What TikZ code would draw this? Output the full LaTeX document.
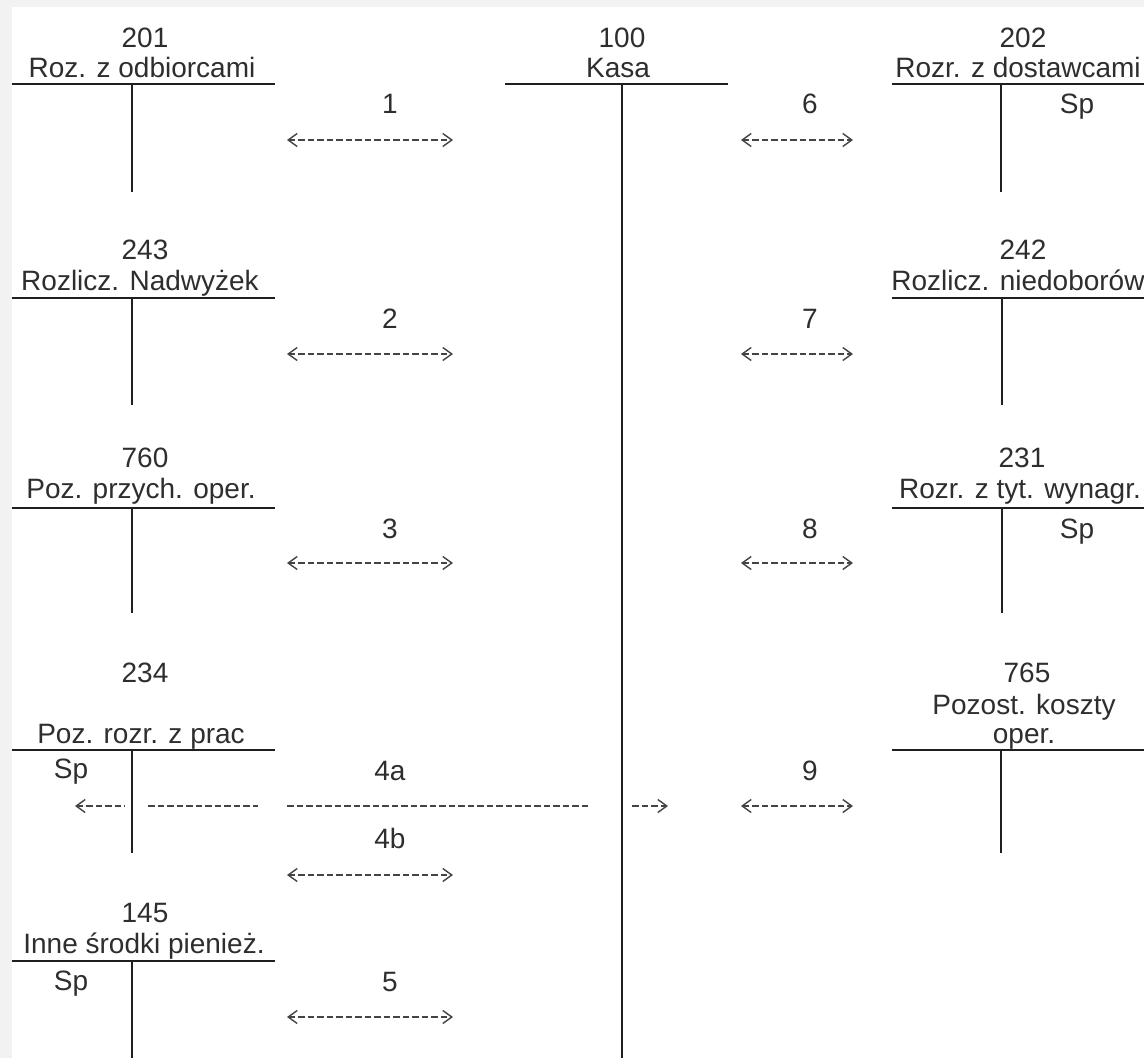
\documentclass[tikz,border=0pt]{standalone}
\usepackage{fontspec}
\setmainfont{Liberation Sans}
\usetikzlibrary{arrows.meta}
\definecolor{txt}{HTML}{2E2E2E}
\definecolor{bggray}{HTML}{F2F2F2}
\definecolor{dashc}{HTML}{444444}
\newcommand\TAcc[6]{%
  \coordinate (#1-l) at (#2,#5); \coordinate (#1-r) at (#4,#5);
  \coordinate (#1-t) at (#3,#5); \coordinate (#1-b) at (#3,#6);
  \draw[tline] (#1-l) -- (#1-r); \draw[tline] (#1-t) -- (#1-b);}
\newcommand\DArr[5]{%
  \coordinate (#1-a) at (#2,#4); \coordinate (#1-b) at (#3,#4);
  \draw[darr,#5] (#1-a) -- (#1-b);}
\begin{document}
\begin{tikzpicture}[x=1pt,y=-1pt,
  lbl/.style={anchor=base, inner sep=0pt, text=txt, font=\fontsize{28}{32}\selectfont},
  tline/.style={line width=2pt, draw=black!88, line cap=butt},
  darr/.style={draw=dashc, line width=1.6pt, dash pattern=on 6.5pt off 3pt},
  chev/.tip={Straight Barb[length=9pt,width=13pt,line width=1.4pt]},
  both/.style={chev-chev},
  lefttip/.style={chev-},
  righttip/.style={-chev},
  plain/.style={}
]
\useasboundingbox (0,0) rectangle (1144,1058);
\fill[bggray] (0,0) rectangle (1144,1058);
\fill[white] (12,7) rectangle (1144,1058);

% T-accounts
\TAcc{t201}{12}{132}{275}{84}{192}
\TAcc{t243}{12}{132}{275}{298}{405}
\TAcc{t760}{12}{132}{275}{508}{613}
\TAcc{t234}{12}{132}{275}{750}{853}
\TAcc{t145}{12}{132}{275}{961}{1058}
\TAcc{t100}{505}{622}{728}{84}{1058}
\TAcc{t202}{892}{1001}{1144}{84}{192}
\TAcc{t242}{892}{1002}{1144}{298}{405}
\TAcc{t231}{892}{1002}{1144}{508}{613}
\TAcc{t765}{892}{1001}{1144}{750}{853}

% Left texts
\node[lbl] (n201) at (145,47) {201};
\node[lbl] (h201) at (142,77) {Roz. z odbiorcami};
\node[lbl] (n243) at (145,259) {243};
\node[lbl] (h243) at (140,290) {Rozlicz. Nadwyżek};
\node[lbl] (n760) at (145,467) {760};
\node[lbl] (h760) at (141,498) {Poz. przych. oper.};
\node[lbl] (n234) at (145,682) {234};
\node[lbl] (h234) at (141,743) {Poz. rozr. z prac};
\node[lbl] (s234) at (71,778) {Sp};
\node[lbl] (n145) at (145,922) {145};
\node[lbl] (h145) at (144,953) {Inne środki pienież.};
\node[lbl] (s145) at (71,990) {Sp};
% Center
\node[lbl] (n100) at (622,47) {100};
\node[lbl] (h100) at (618,77) {Kasa};
% Right texts
\node[lbl] (n202) at (1023,47) {202};
\node[lbl] (h202) at (1018,77) {Rozr. z dostawcami};
\node[lbl] (s202) at (1077,113) {Sp};
\node[lbl] (n242) at (1023,259) {242};
\node[lbl] (h242) at (1018,290) {Rozlicz. niedoborów};
\node[lbl] (n231) at (1022,467) {231};
\node[lbl] (h231) at (1020,498) {Rozr. z tyt. wynagr.};
\node[lbl] (s231) at (1077,538) {Sp};
\node[lbl] (n765) at (1027,682) {765};
\node[lbl] (h765a) at (1024,714) {Pozost. koszty};
\node[lbl] (h765b) at (1024,743) {oper.};

% Operation labels
\node[lbl] (l1) at (390,113) {1};
\node[lbl] (l2) at (390,328) {2};
\node[lbl] (l3) at (390,538) {3};
\node[lbl] (l4a) at (390,780) {4a};
\node[lbl] (l4b) at (390,848) {4b};
\node[lbl] (l5) at (390,991) {5};
\node[lbl] (l6) at (810,113) {6};
\node[lbl] (l7) at (810,328) {7};
\node[lbl] (l8) at (810,538) {8};
\node[lbl] (l9) at (810,780) {9};

% Dashed arrows
\DArr{a1}{287}{453}{140}{both}
\DArr{a2}{287}{453}{354}{both}
\DArr{a3}{287}{453}{563}{both}
\DArr{a4b}{287}{453}{875}{both}
\DArr{a5}{287}{453}{1017}{both}
\DArr{a6}{741}{853}{140}{both}
\DArr{a7}{741}{853}{354}{both}
\DArr{a8}{741}{853}{563}{both}
\DArr{a9}{741}{853}{806}{both}
\DArr{a4s1}{75}{125}{806}{lefttip}
\DArr{a4s2}{148}{258}{806}{plain}
\DArr{a4s3}{287}{588}{806}{plain}
\DArr{a4s4}{632}{668}{806}{righttip}
\end{tikzpicture}
\end{document}
